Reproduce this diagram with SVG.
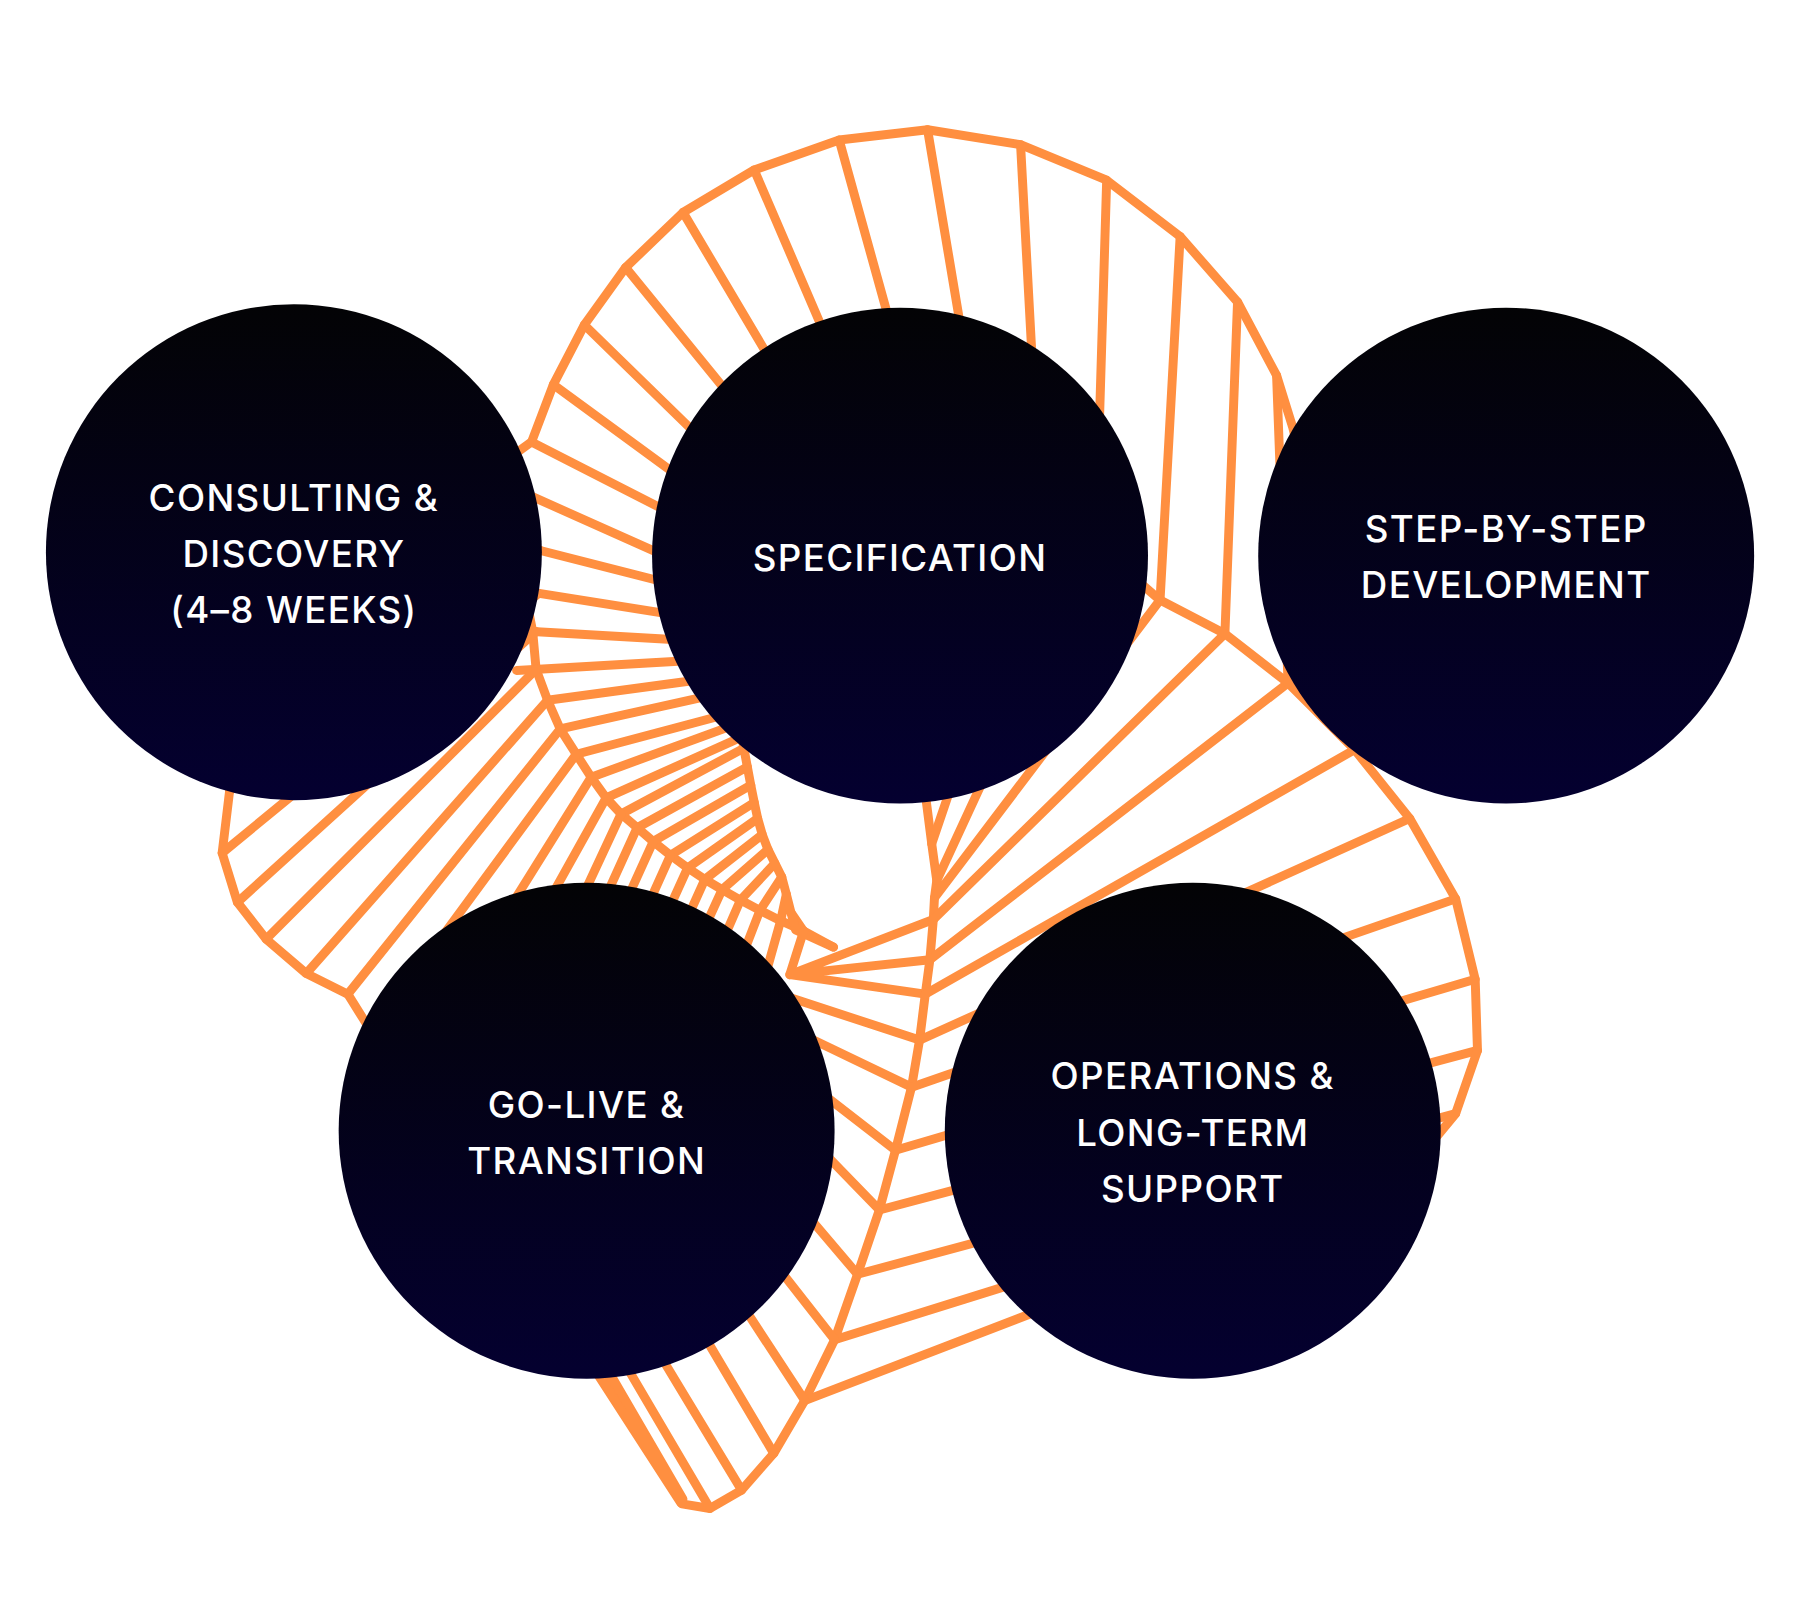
<svg xmlns="http://www.w3.org/2000/svg" width="1800" height="1600" viewBox="0 0 1800 1600">
<defs>
<linearGradient id="g" x1="0" y1="0" x2="0" y2="1">
<stop offset="0" stop-color="#030305"/>
<stop offset="1" stop-color="#040030"/>
</linearGradient>
<style>
.o{fill:none;stroke:#FF8F40;stroke-width:7.8;stroke-linecap:round;stroke-linejoin:round}
.f{fill:#FF8F40}
.c{fill:url(#g)}
.t{font-family:Inter,"Noto Sans","Liberation Sans",sans-serif;font-size:32px;font-weight:500;fill:#FFFFFF;text-anchor:middle;letter-spacing:1.2px}
</style>
</defs>
<rect width="1800" height="1600" fill="#FFFFFF"/>
<g transform="scale(1.148)">
<g id="connectors" class="o">
<path d="M1135,410 L1126,372 L1112,327 L1078,263 L1028,206 L964,157 L889,126 L808,113 L731,122 L657,148 L595,185 L545,233 L509,283 L482,335 L463,385 L445,398"/>
<path d="M445,420 L455,470 L458,520 L464,550 L467,583 L477,610 L488,635 L502,657 L515,677 L528,695 L541,709 L555,721 L569,733 L584,745 L599,756 L614,766 L629,775 L645,784 L662,793 L680,802 L700,811 L726,825"/>
<path d="M463,385 L600,455 M482,335 L620,436 M509,283 L630,401 M545,233 L650,362 M595,185 L685,337 M657,148 L730,318 M731,122 L782,306 M808,113 L841,310 M889,126 L900,330 M964,157 L957,390 M1028,206 L1010.5,522.7 M1078,263 L1067,552 M1112,327 L1122,595"/>
<path d="M440,422 L610,498 M445,473 L610,515 M445,513 L615,540 M445,549 L620,559 M450,584 L625,574 M477,610 L640,588 M488,635 L650,599 M502,657 L660,615 M515,677 L660,624 M528,695 L655,638 M541,709 L655,648 M555,721 L651,668 M569,733 L654,684 M584,745 L657,699 M599,756 L660,713 M614,766 L664,727 M629,775 L669,740 M645,784 L675,752 M662,793 L681,764 M680,802 L685,779 M700,811 L689,795"/>
<path d="M646,640 L648,652 L651,668 L654,684 L657,699 L660,713 L664,727 L669,740 L675,752 L681,764 L685,779 L689,795 L693,810 L726,825"/>
<path d="M205,655 L200,689 L193.5,743 L206.8,786 L231.8,818 L266.8,848 L303,866 L318,890 L335,915"/>
<path d="M200,689 L470,479 M193.5,743 L469,517 M206.8,786 L467,550 M231.8,818 L467,583 M266.8,848 L477,610 M303,866 L488,635"/>
<path d="M502,657 L360,850 M515,677 L430,813 M528,695 L465,808 M541,709 L500,797 M555,721 L525,787 M569,733 L540,797 M584,745 L557,805 M599,756 L574,811 M614,766 L591,817 M629,775 L607,823 M645,784 L625,830 M662,793 L645,837 M680,802 L668,845 M700,811 L688,849"/>
<path d="M688,849 L813,801 M688,849 L810,836 M688,849 L806,866 M670,863 L801,906 M690,897 L794,947"/>
<path d="M805,670 L807,699 L811.6,735 L816,767 L814,782 L813,801 L810,836 L806,866 L801,906 L794,947 L780,1002 L766,1054 L747,1110 L727,1167 L701,1220 L674,1266 L646,1298 L618.5,1314 L594,1310"/>
<path d="M811.6,735 L832,675 M816,767 L860,672 M814,782 L1010.5,522.7 M813,801 L1067,552 M810,836 L1122,595 M806,866 L1180,653 M801,906 L1228,713 M794,947 L1268,783 M780,1002 L1285,853 M766,1054 L1287,915 M747,1110 L1268,970 M727,1167 L900,1113 M701,1220 L930,1132"/>
<path d="M990,505 L1010.5,522.7 L1067,552 L1122,595 L1180,653 L1228,713 L1268,783 L1285,853 L1287,915 L1268,970 L1245,998"/>
<path d="M780,1002 L700,940 M766,1054 L700,986 M747,1110 L690,1043 M727,1167 L665,1088 M701,1220 L635,1119 M674,1266 L600,1141 M646,1298 L565,1164 M618.5,1314 L535,1172"/>
<path class="o f" d="M503,1170 L516,1170 L595,1306 L593,1309 Z"/>
</g>
<g id="node-consulting">
<circle class="c" cx="256" cy="481" r="216"/>
<text class="t" x="256" y="445">CONSULTING &amp;</text>
<text class="t" x="256" y="494">DISCOVERY</text>
<text class="t" x="256" y="543">(4–8 WEEKS)</text>
</g>
<g id="node-specification">
<circle class="c" cx="784" cy="484" r="216"/>
<text class="t" x="784" y="497">SPECIFICATION</text>
</g>
<g id="node-development">
<circle class="c" cx="1312" cy="484" r="216"/>
<text class="t" x="1312" y="472">STEP-BY-STEP</text>
<text class="t" x="1312" y="521">DEVELOPMENT</text>
</g>
<g id="node-golive">
<circle class="c" cx="511" cy="985" r="216"/>
<text class="t" x="511" y="974">GO-LIVE &amp;</text>
<text class="t" x="511" y="1023">TRANSITION</text>
</g>
<g id="node-operations">
<circle class="c" cx="1039" cy="985" r="216"/>
<text class="t" x="1039" y="949">OPERATIONS &amp;</text>
<text class="t" x="1039" y="998">LONG-TERM</text>
<text class="t" x="1039" y="1047">SUPPORT</text>
</g>
</g>
</svg>
